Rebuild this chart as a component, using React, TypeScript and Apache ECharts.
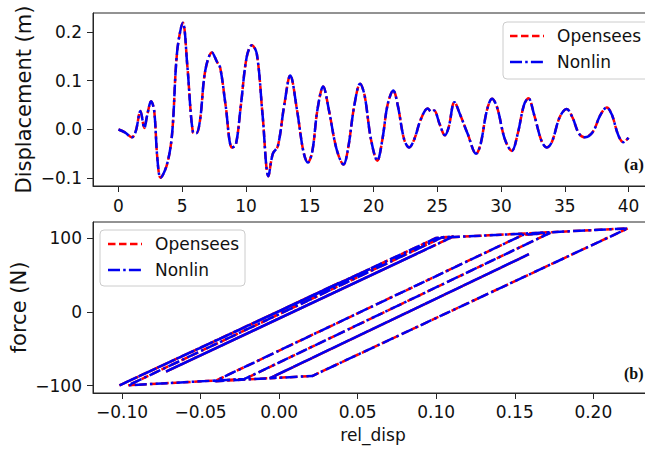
import React, { useEffect, useRef } from "react";
import * as echarts from "echarts";

// ---- Panel (a): displacement time history ----
const TIME = [
  0, 0.5, 1.05, 1.35, 1.72, 2.03, 2.24, 2.56, 2.8, 3.05, 3.3, 3.8, 4.2, 4.6, 5.05, 5.4, 5.84, 6.1, 6.4, 6.8,
  7.33, 7.7, 7.98, 8.4, 8.9, 9.2, 9.6, 10.05, 10.46, 10.85, 11.3, 11.76, 12.1, 12.5, 13.0, 13.47, 14.0, 14.5,
  14.85, 15.2, 15.6, 16.05, 16.5, 17.1, 17.65, 18.0, 18.5, 18.95, 19.3, 19.8, 20.3, 20.7, 21.1, 21.55, 21.9,
  22.4, 22.8, 23.2, 23.7, 24.25, 24.55, 24.75, 25.2, 25.6, 25.9, 26.35, 26.8, 27.4, 28.05, 28.4, 28.9, 29.3,
  29.7, 30.3, 30.85, 31.3, 31.8, 32.15, 32.6, 33.2, 33.6, 34.0, 34.6, 35.15, 35.6, 36.1, 36.55, 37.2, 37.8,
  38.3, 38.7, 39.2, 39.6, 40.0,
];
const DISP = [
  0, -0.006, -0.016, -0.004, 0.038, 0.003, 0.028, 0.058, 0.038, -0.06, -0.099, -0.072, -0.01, 0.16, 0.219,
  0.13, -0.006, -0.008, 0.02, 0.12, 0.158, 0.14, 0.126, 0.05, -0.037, -0.032, 0.05, 0.148, 0.173, 0.155, 0.03,
  -0.096, -0.05, -0.034, 0.05, 0.111, 0.04, -0.045, -0.068, -0.045, 0.04, 0.088, 0.04, -0.04, -0.072, -0.04,
  0.05, 0.094, 0.07, -0.02, -0.064, -0.02, 0.05, 0.08, 0.05, -0.02, -0.037, -0.02, 0.02, 0.043, 0.036, 0.039,
  0.01, -0.012, 0.005, 0.056, 0.03, -0.01, -0.05, -0.03, 0.04, 0.063, 0.045, -0.02, -0.044, -0.01, 0.05,
  0.064, 0.03, -0.025, -0.037, -0.025, 0.025, 0.042, 0.025, -0.008, -0.016, -0.005, 0.03, 0.045, 0.03,
  -0.012, -0.026, -0.017,
];

// ---- Panel (b): force vs relative displacement (hysteresis turning points) ----
const REL_DISP = [
  0, -0.016, 0.038, 0.002, 0.058, -0.102, 0.1, 0.222, 0.021, -0.006, 0.159, -0.006, -0.041, 0.155, 0.1726,
  -0.022, -0.096, 0.104, 0.111, -0.072, 0.088, -0.072, 0.094, -0.064, 0.08, -0.037, 0.043, -0.012, 0.056,
  -0.05, 0.063, -0.044, 0.064, -0.037, 0.042, -0.016, 0.045, -0.026, -0.017,
];
const FORCE = [
  1, -15, 39, 3, 58, -100, 100, 113, -87, -90, 78, -90, -94, 104, 107, -91, -99.5, 101, 102, -81, 79, -81, 85,
  -73, 71, -46, 34, -21, 47, -59, 54, -53, 55, -46, 33, -25, 36, -35, -26,
];

const SERIES_NAMES = ["Opensees", "Nonlin"];

const TIME_TICKS = [0, 5, 10, 15, 20, 25, 30, 35, 40];
const TIME_TICK_LABELS = ["0", "5", "10", "15", "20", "25", "30", "35", "40"];
const DISP_TICKS = [-0.1, 0, 0.1, 0.2];
const DISP_TICK_LABELS = ["\u22120.1", "0.0", "0.1", "0.2"];
const REL_TICKS = [-0.1, -0.05, 0, 0.05, 0.1, 0.15, 0.2];
const REL_TICK_LABELS = ["\u22120.10", "\u22120.05", "0.00", "0.05", "0.10", "0.15", "0.20"];
const FORCE_TICKS = [-100, 0, 100];
const FORCE_TICK_LABELS = ["\u2212100", "0", "100"];

const FONT = "DejaVu Sans";
const RED = "#ff0000";
const BLUE = "#0000f0";
const FRAME = "#262626";
const RED_DASH = [7.5, 3.5];
const BLUE_DASH = [12, 3.2, 2.5, 3.2];

function fmt(ticks: number[], labels: string[]) {
  return (v: number) => {
    const i = ticks.findIndex((t) => Math.abs(t - v) < 1e-9);
    return i >= 0 ? labels[i] : "";
  };
}

function valueAxis(gridIndex: number, min: number, max: number, ticks: number[], labels: string[], margin: number, extra: any = {}) {
  return {
    type: "value",
    gridIndex,
    min,
    max,
    splitLine: { show: false },
    axisLine: { show: true, onZero: false, lineStyle: { color: FRAME, width: 1 } },
    axisTick: { show: true, length: 6, customValues: ticks, lineStyle: { color: FRAME, width: 1 } },
    axisLabel: {
      customValues: ticks,
      formatter: fmt(ticks, labels),
      color: "#111",
      fontFamily: FONT,
      fontSize: 17,
      margin,
    },
    ...extra,
  };
}

function legend(x: number, y: number, w: number, h: number, lx: number, y1: number, y2: number, tx: number) {
  return [
    {
      type: "rect",
      z: 100,
      shape: { x, y, width: w, height: h, r: 4 },
      style: { fill: "rgba(255,255,255,0.85)", stroke: "#cccccc", lineWidth: 1 },
    },
    {
      type: "line",
      z: 101,
      shape: { x1: lx, y1: y1, x2: lx + 34, y2: y1 },
      style: { stroke: RED, lineWidth: 2.5, lineDash: RED_DASH },
    },
    {
      type: "line",
      z: 101,
      shape: { x1: lx, y1: y2, x2: lx + 34, y2: y2 },
      style: { stroke: BLUE, lineWidth: 2.5, lineDash: BLUE_DASH },
    },
    {
      type: "text",
      z: 101,
      x: tx,
      y: y1,
      style: { text: SERIES_NAMES[0], fontSize: 17, fontFamily: FONT, fill: "#111", verticalAlign: "middle" },
    },
    {
      type: "text",
      z: 101,
      x: tx,
      y: y2,
      style: { text: SERIES_NAMES[1], fontSize: 17, fontFamily: FONT, fill: "#111", verticalAlign: "middle" },
    },
  ];
}

export default function App() {
  const ref = useRef<HTMLDivElement>(null);

  useEffect(() => {
    if (!ref.current) return;
    const chart = echarts.init(ref.current, undefined, { renderer: "svg" });
    const dispData = TIME.map((t, i) => [t, DISP[i]]);
    const hystData = REL_DISP.map((x, i) => [x, FORCE[i]]);

    const option: any = {
      animation: false,
      backgroundColor: "#ffffff",
      grid: [
        { left: 93, top: 13, width: 561, height: 173, show: true, borderColor: FRAME, borderWidth: 1, backgroundColor: "transparent" },
        { left: 93, top: 222, width: 560, height: 171, show: true, borderColor: FRAME, borderWidth: 1, backgroundColor: "transparent" },
      ],
      xAxis: [
        valueAxis(0, -2, 42, TIME_TICKS, TIME_TICK_LABELS, 11),
        valueAxis(1, -0.1185, 0.238, REL_TICKS, REL_TICK_LABELS, 10, {
          name: "rel_disp",
          nameLocation: "middle",
          nameGap: 33,
          nameMoveOverlap: false,
          nameTextStyle: { fontFamily: FONT, fontSize: 17, color: "#111" },
        }),
      ],
      yAxis: [
        valueAxis(0, -0.116, 0.239, DISP_TICKS, DISP_TICK_LABELS, 11, {
          name: "Displacement (m)",
          nameLocation: "middle",
          nameGap: 59,
          nameMoveOverlap: false,
          nameTextStyle: { fontFamily: FONT, fontSize: 21, color: "#111" },
        }),
        valueAxis(1, -110, 121.6, FORCE_TICKS, FORCE_TICK_LABELS, 11, {
          name: "force (N)",
          nameLocation: "middle",
          nameGap: 64,
          nameMoveOverlap: false,
          nameTextStyle: { fontFamily: FONT, fontSize: 21, color: "#111" },
        }),
      ],
      series: [
        {
          name: SERIES_NAMES[0],
          type: "line",
          xAxisIndex: 0,
          yAxisIndex: 0,
          data: dispData,
          symbol: "none",
          smooth: 0.35,
          lineStyle: { color: RED, width: 2.5, type: RED_DASH },
        },
        {
          name: SERIES_NAMES[1],
          type: "line",
          xAxisIndex: 0,
          yAxisIndex: 0,
          data: dispData,
          symbol: "none",
          smooth: 0.35,
          lineStyle: { color: BLUE, width: 2.5, type: BLUE_DASH },
        },
        {
          name: SERIES_NAMES[0],
          type: "line",
          xAxisIndex: 1,
          yAxisIndex: 1,
          data: hystData,
          symbol: "none",
          lineStyle: { color: RED, width: 2.5, type: RED_DASH },
        },
        {
          name: SERIES_NAMES[1],
          type: "line",
          xAxisIndex: 1,
          yAxisIndex: 1,
          data: hystData,
          symbol: "none",
          lineStyle: { color: BLUE, width: 2.5, type: BLUE_DASH },
        },
      ],
      graphic: [
        ...legend(503, 22, 146, 57, 510, 36, 62, 557),
        ...legend(100, 230, 145, 56, 108, 244, 270, 155),
        {
          type: "text",
          z: 101,
          x: 624,
          y: 164,
          style: { text: "(a)", fontSize: 17, fontWeight: "bold", fontFamily: "Liberation Serif", fill: "#111", verticalAlign: "middle" },
        },
        {
          type: "text",
          z: 101,
          x: 624,
          y: 373,
          style: { text: "(b)", fontSize: 16, fontWeight: "bold", fontFamily: "Liberation Serif", fill: "#111", verticalAlign: "middle" },
        },
      ],
    };
    chart.setOption(option);
    return () => chart.dispose();
  }, []);

  return (
    <div style={{ position: "absolute", left: 0, top: 0, width: 645, height: 451, overflow: "hidden", background: "#fff" }}>
      <div ref={ref} style={{ width: 660, height: 451 }} />
    </div>
  );
}
